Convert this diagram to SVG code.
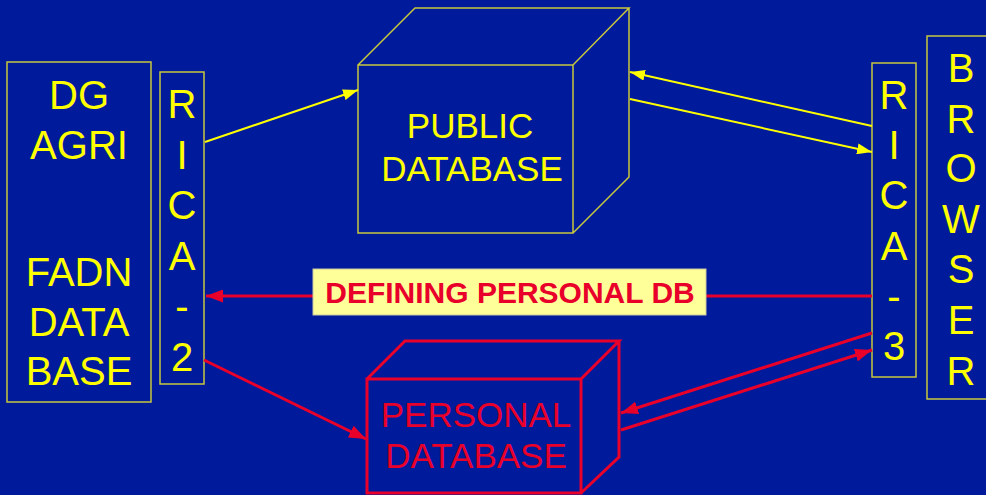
<svg xmlns="http://www.w3.org/2000/svg" width="986" height="495" viewBox="0 0 986 495">
<defs>
<style>
.bg{fill:#001A9C}
.box{fill:none;stroke:#C8C83C;stroke-width:1.5}
.cubeY{fill:none;stroke:#C8C83C;stroke-width:1.5;stroke-linejoin:miter}
.cubeR{fill:none;stroke:#E8002A;stroke-width:3;stroke-linejoin:miter}
.ty{fill:#FFFF00;font-family:"Liberation Sans",Arial,sans-serif;text-anchor:middle}
.tr{fill:#E8002A;font-family:"Liberation Sans",Arial,sans-serif;text-anchor:middle}
.ly{stroke:#FFFF00;stroke-width:2;fill:none}
.lr{stroke:#E8002A;stroke-width:3;fill:none}
</style>
<marker id="ay" markerUnits="userSpaceOnUse" markerWidth="15" markerHeight="11" refX="15" refY="5.5" orient="auto">
<path d="M0,0 L15,5.5 L0,11 z" fill="#FFFF00"/>
</marker>
<marker id="ar" markerUnits="userSpaceOnUse" markerWidth="17" markerHeight="13" refX="17" refY="6.5" orient="auto">
<path d="M0,0 L17,6.5 L0,13 z" fill="#E8002A"/>
</marker>
</defs>
<rect class="bg" x="0" y="0" width="986" height="495"/>

<g id="dgagri">
<rect class="box" x="7" y="62" width="144" height="340"/>
<text class="ty" font-size="40"><tspan x="79" y="109">DG</tspan><tspan x="79" y="159">AGRI</tspan><tspan x="79" y="286">FADN</tspan><tspan x="79" y="336">DATA</tspan><tspan x="79" y="385">BASE</tspan></text>
</g>

<g id="rica2">
<rect class="box" x="160" y="72" width="44" height="312"/>
<text class="ty" font-size="40"><tspan x="182" y="118">R</tspan><tspan x="182" y="168.5">I</tspan><tspan x="182" y="219">C</tspan><tspan x="182" y="269.5">A</tspan><tspan x="182" y="320">-</tspan><tspan x="182" y="371">2</tspan></text>
</g>

<g id="publicdb">
<path class="cubeY" d="M358,65 L573,65 L573,233 L358,233 Z M358,65 L415,8 L629,8 L573,65 M629,8 L629,177 L573,233"/>
<text class="ty" font-size="35"><tspan x="470" y="138">PUBLIC</tspan><tspan x="472" y="181">DATABASE</tspan></text>
</g>

<g id="personaldb">
<path class="cubeR" d="M367,379 L581,379 L581,493 L367,493 Z M367,379 L405,341 L619,341 L581,379 M619,341 L619,457 L581,493"/>
<text class="tr" font-size="35"><tspan x="476" y="427">PERSONAL</tspan><tspan x="476" y="468">DATABASE</tspan></text>
</g>

<g id="rica3">
<rect class="box" x="872" y="63" width="44" height="314"/>
<text class="ty" font-size="40"><tspan x="894" y="109">R</tspan><tspan x="894" y="159">I</tspan><tspan x="894" y="209">C</tspan><tspan x="894" y="259.5">A</tspan><tspan x="894" y="310">-</tspan><tspan x="894" y="360">3</tspan></text>
</g>

<g id="browser">
<rect class="box" x="927" y="36" width="70" height="363"/>
<text class="ty" font-size="40"><tspan x="961" y="82">B</tspan><tspan x="961" y="133">R</tspan><tspan x="961" y="182">O</tspan><tspan x="961" y="233">W</tspan><tspan x="961" y="283">S</tspan><tspan x="961" y="334">E</tspan><tspan x="961" y="385">R</tspan></text>
</g>

<g id="connectors">
<line class="ly" x1="205" y1="142" x2="358" y2="90" marker-end="url(#ay)"/>
<line class="ly" x1="872" y1="126" x2="630" y2="72" marker-end="url(#ay)"/>
<line class="ly" x1="630" y1="99" x2="872" y2="152" marker-end="url(#ay)"/>
<line class="lr" x1="872" y1="296" x2="206" y2="296" marker-end="url(#ar)"/>
<line class="lr" x1="204" y1="360" x2="366" y2="439" marker-end="url(#ar)"/>
<line class="lr" x1="872" y1="333" x2="621" y2="413" marker-end="url(#ar)"/>
<line class="lr" x1="621" y1="430" x2="872" y2="350" marker-end="url(#ar)"/>
</g>

<g id="label-defining">
<rect x="313" y="269" width="393" height="46" fill="#FFFF99" stroke="#C8C8A0" stroke-width="1"/>
<text class="tr" font-size="30" font-weight="bold" x="510" y="303">DEFINING PERSONAL DB</text>
</g>
</svg>
